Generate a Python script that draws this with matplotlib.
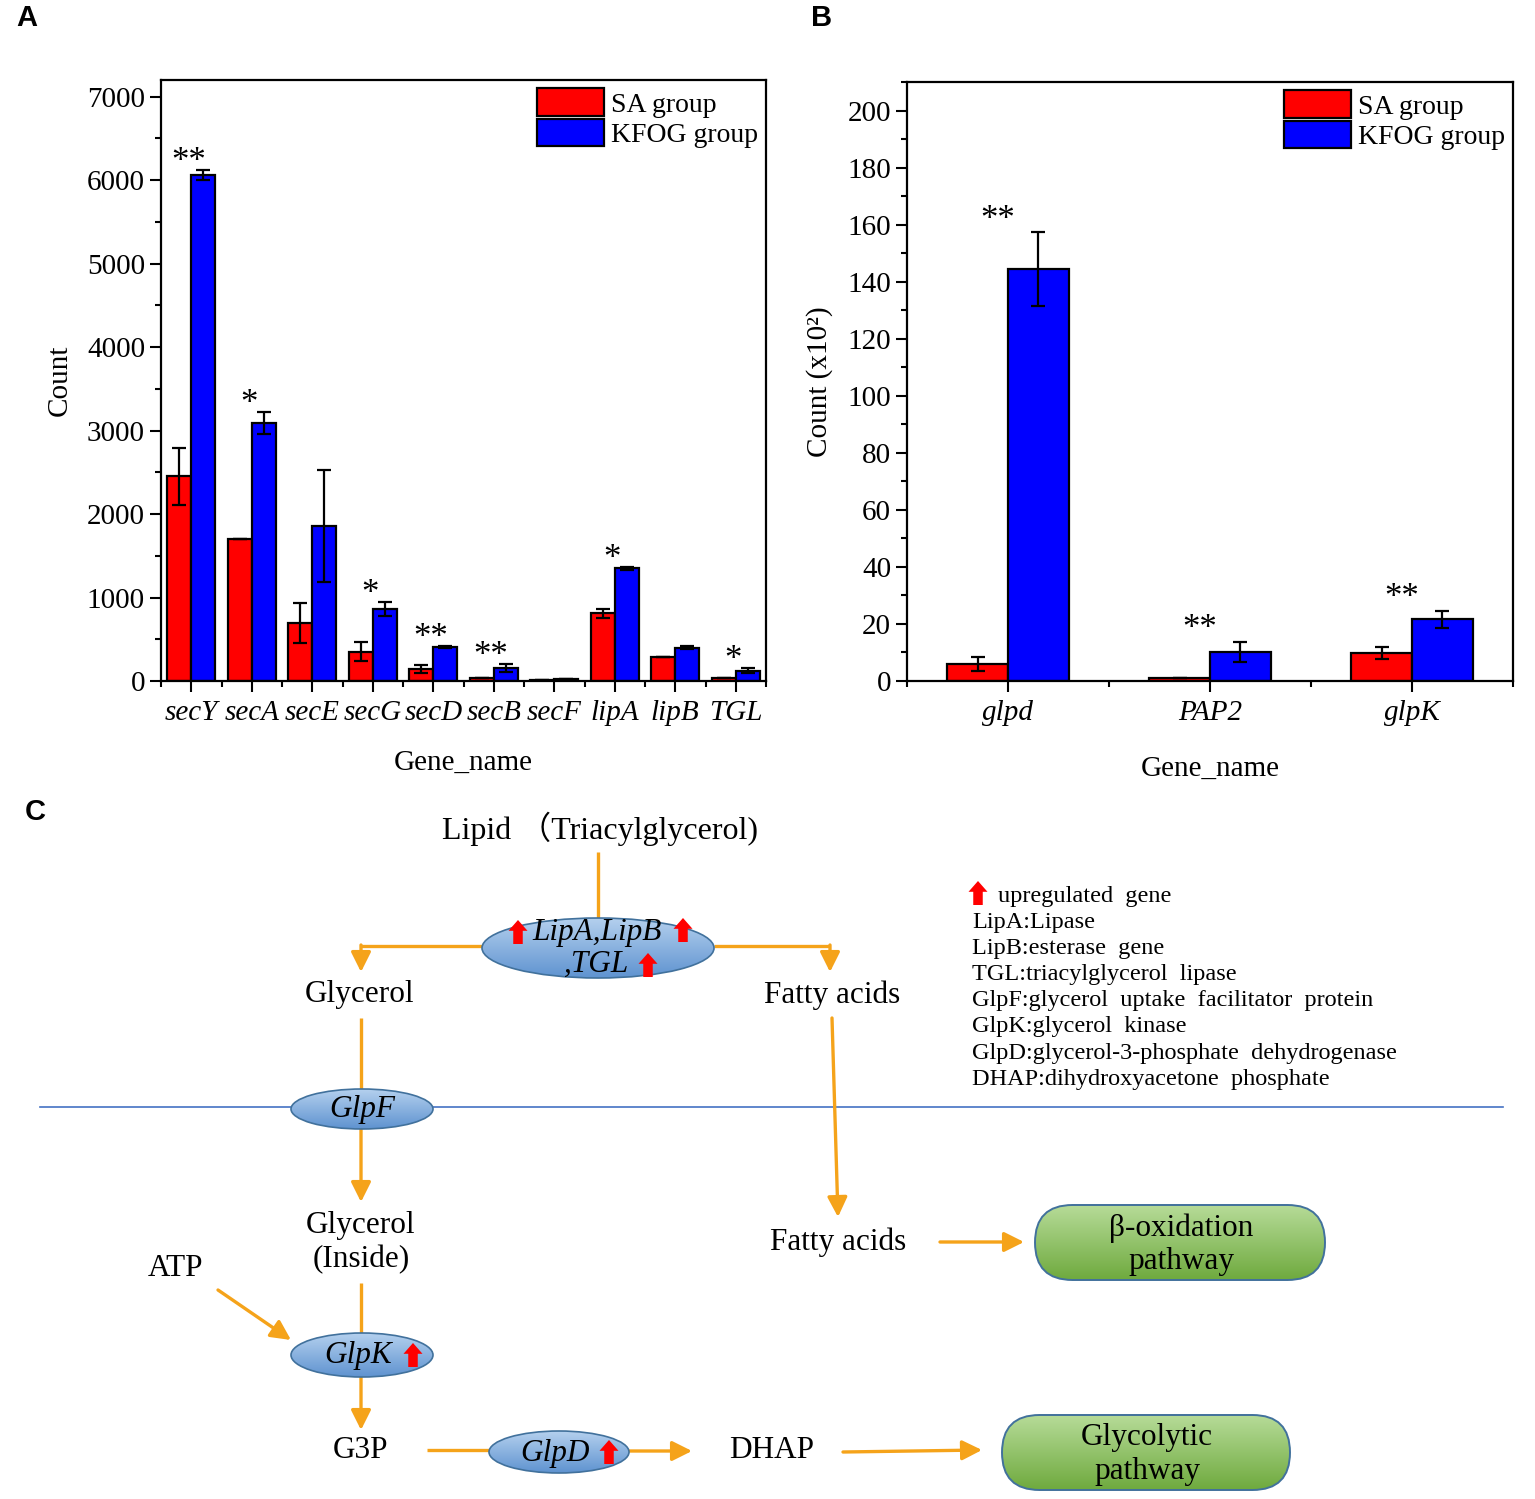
import numpy as np
import matplotlib
matplotlib.use("Agg")
import matplotlib.pyplot as plt
from matplotlib.patches import Ellipse, FancyBboxPatch, Polygon
from matplotlib.colors import LinearSegmentedColormap
from matplotlib.ticker import MultipleLocator

plt.rcParams['font.family'] = ['Liberation Serif', 'Noto Sans CJK SC', 'DejaVu Sans']

# ---- panel A data ----
genes_a = ['secY', 'secA', 'secE', 'secG', 'secD', 'secB', 'secF', 'lipA', 'lipB', 'TGL']
sa_a = [2450, 1700, 700, 350, 140, 40, 15, 810, 290, 40]
sa_a_err = [340, 0, 240, 115, 50, 0, 0, 50, 0, 0]
kfog_a = [6060, 3090, 1860, 860, 410, 155, 20, 1350, 400, 125]
kfog_a_err = [60, 130, 670, 85, 15, 45, 0, 20, 20, 30]
stars_a = ['**', '*', '', '*', '**', '**', '', '*', '', '*']

# ---- panel B data ----
genes_b = ['glpd', 'PAP2', 'glpK']
sa_b = [5.9, 1.0, 9.8]
sa_b_err = [2.5, 0, 2.0]
kfog_b = [144.3, 10.1, 21.6]
kfog_b_err = [13.0, 3.5, 3.0]
stars_b = ['**', '**', '**']

legend_lines = ['LipA:Lipase', 'LipB:esterase  gene', 'TGL:triacylglycerol  lipase',
                'GlpF:glycerol  uptake  facilitator  protein', 'GlpK:glycerol  kinase',
                'GlpD:glycerol-3-phosphate  dehydrogenase', 'DHAP:dihydroxyacetone  phosphate']

RED = '#FF0000'
BLUE = '#0000FF'
ORANGE = '#F5A31A'

fig = plt.figure(figsize=(15.35, 14.99), dpi=100)

# diagram / background axes in pixel coordinates
dg = fig.add_axes([0, 0, 1, 1])
dg.set_xlim(0, 1535)
dg.set_ylim(1499, 0)
dg.axis('off')


def bar_panel(ax, genes, sa, sa_err, kf, kf_err, stars, width, ylim, major, minor, ylabel, pad, xlpad):
    x = np.arange(1, len(genes) + 1)
    ebk = dict(elinewidth=1.6, capthick=1.6, ecolor='black')
    ax.bar(x - width / 2, sa, width, yerr=sa_err, color=RED, edgecolor='black',
           linewidth=1.6, capsize=5, error_kw=ebk, label='SA group')
    ax.bar(x + width / 2, kf, width, yerr=kf_err, color=BLUE, edgecolor='black',
           linewidth=1.6, capsize=5, error_kw=ebk, label='KFOG group')
    for xi, s, v, e in zip(x, stars, kf, kf_err):
        if s:
            ax.text(xi - 0.05, v + e + pad, s, ha='center', va='bottom', fontsize=25)
    ax.set_xlim(0.5, len(genes) + 0.5)
    ax.set_ylim(*ylim)
    ax.set_xticks(x)
    ax.set_xticklabels(genes, fontstyle='italic', fontsize=21)
    ax.xaxis.set_minor_locator(MultipleLocator(0.5))
    ax.yaxis.set_major_locator(MultipleLocator(major))
    ax.yaxis.set_minor_locator(MultipleLocator(minor))
    ax.tick_params(which='major', direction='out', length=8, width=1.5, labelsize=21)
    ax.tick_params(which='minor', direction='out', length=4, width=1.5)
    ax.tick_params(axis='x', pad=6)
    for sp in ax.spines.values():
        sp.set_linewidth(1.6)
    ax.set_xlabel('Gene_name', fontsize=21, labelpad=xlpad)
    ax.set_ylabel(ylabel, fontsize=21, labelpad=10)
    ax.legend(loc='upper right', frameon=False, fontsize=20, handlelength=2.4,
              handleheight=1.15, labelspacing=0.05, handletextpad=0.25,
              borderaxespad=0.2, borderpad=0.1)


ax_a = fig.add_axes([161 / 1535, 1 - 681 / 1499, 605 / 1535, 601 / 1499])
bar_panel(ax_a, genes_a, sa_a, sa_a_err, kfog_a, kfog_a_err, stars_a, 0.4,
          (0, 7200), 1000, 500, 'Count', -110, 17)

ax_b = fig.add_axes([907 / 1535, 1 - 681 / 1499, 606 / 1535, 599 / 1499])
bar_panel(ax_b, genes_b, sa_b, sa_b_err, kfog_b, kfog_b_err, stars_b, 0.3,
          (0, 210), 20, 10, 'Count (x10²)', -1.5, 21)

# panel letters
for lab, (px, py) in zip(['A', 'B', 'C'], [(27, 18), (822, 18), (35, 812)]):
    dg.text(px, py, lab, fontsize=21, fontweight='bold', family='Liberation Sans',
            ha='center', va='center')


# ---- panel C helpers ----
def gradient_fill(patch, c1, c2, x0, y0, x1, y1, z=3):
    patch.set_facecolor('none')
    dg.add_patch(patch)
    cmap = LinearSegmentedColormap.from_list('g', [c1, c2])
    im = dg.imshow(np.linspace(0, 1, 100).reshape(-1, 1), cmap=cmap, aspect='auto',
                   extent=[x0, x1, y1, y0], zorder=z - 0.5, interpolation='bilinear')
    im.set_clip_path(patch)


def oval(cx, cy, w, h):
    e = Ellipse((cx, cy), w, h, edgecolor='#41719C', linewidth=1.2, zorder=3)
    gradient_fill(e, '#B4D0EE', '#5F93D0', cx - w / 2, cy - h / 2, cx + w / 2, cy + h / 2)


def pill(x0, y0, x1, y1):
    r = (y1 - y0) / 2
    p = FancyBboxPatch((x0, y0), x1 - x0, y1 - y0,
                       boxstyle='round,pad=0,rounding_size=%f' % r,
                       edgecolor='#41719C', linewidth=1.4, zorder=3)
    gradient_fill(p, '#B6DB98', '#6FAA3E', x0, y0, x1, y1)


def up_arrow(cx, cy, h=24, w=19):
    sw = w * 0.5
    hh = h * 0.45
    top = cy - h / 2
    bot = cy + h / 2
    pts = [(cx - sw / 2, bot), (cx + sw / 2, bot), (cx + sw / 2, top + hh), (cx + w / 2, top + hh),
           (cx, top), (cx - w / 2, top + hh), (cx - sw / 2, top + hh)]
    dg.add_patch(Polygon(pts, closed=True, facecolor=RED, edgecolor='none', zorder=6))


def line(xs, ys):
    dg.plot(xs, ys, color=ORANGE, lw=2.4, zorder=2, solid_capstyle='butt')


def arrow(x0, y0, x1, y1):
    dg.annotate('', xy=(x1, y1), xytext=(x0, y0),
                arrowprops=dict(arrowstyle='-|>,head_length=0.6,head_width=0.3', color=ORANGE,
                                lw=2.4, mutation_scale=20, shrinkA=0, shrinkB=0), zorder=2)


def label(x, y, s, size=22.5, **kw):
    dg.text(x, y, s, fontsize=size, ha='center', va='center', zorder=7, **kw)


# membrane
dg.plot([40, 1503], [1107, 1107], color='#4472C4', lw=1.2, zorder=1)

label(600, 829, 'Lipid （Triacylglycerol)', size=23)
line([598, 598], [852, 925])
oval(598, 948, 232, 60)
label(597, 932, 'LipA,LipB', style='italic')
label(597, 964, ',TGL', style='italic')
up_arrow(518, 932)
up_arrow(683, 930)
up_arrow(648, 965)

line([482, 361], [946, 946])
arrow(361, 945, 361, 972)
line([714, 830], [946, 946])
arrow(830, 945, 830, 972)

label(360, 994, 'Glycerol')
label(832, 995, 'Fatty acids')

line([361, 361], [1018, 1090])
oval(362, 1109, 142, 40)
label(362, 1110, 'GlpF', style='italic')
arrow(361, 1128, 361, 1202)

arrow(832, 1018, 838, 1217)

label(361, 1226, 'Glycerol')
label(361, 1260, '(Inside)')
label(176, 1268, 'ATP')
arrow(218, 1290, 291, 1340)

line([361, 361], [1283, 1335])
oval(362, 1355, 142, 44)
label(358, 1356, 'GlpK', style='italic')
up_arrow(413, 1355)
arrow(361, 1376, 361, 1430)

label(361, 1451, 'G3P')
line([427, 489], [1450, 1450])
oval(559, 1452, 140, 42)
label(555, 1453, 'GlpD', style='italic')
up_arrow(609, 1452)
arrow(629, 1451, 692, 1451)
label(772, 1451, 'DHAP')
arrow(843, 1452, 982, 1450)

pill(1002, 1415, 1290, 1490)
label(1147, 1438, 'Glycolytic')
label(1147, 1472, 'pathway')

label(838, 1242, 'Fatty acids')
arrow(940, 1242, 1024, 1242)
pill(1035, 1205, 1325, 1280)
label(1181, 1228, 'β-oxidation')
label(1181, 1262, 'pathway')

# key
up_arrow(978, 893, h=24, w=19)
dg.text(998, 896, 'upregulated  gene', fontsize=17.5, ha='left', va='center')
for i, s in enumerate(legend_lines):
    dg.text(972, 922 + i * 26.2, s, fontsize=17.5, ha='left', va='center')

fig.savefig('out.png', dpi=100)
